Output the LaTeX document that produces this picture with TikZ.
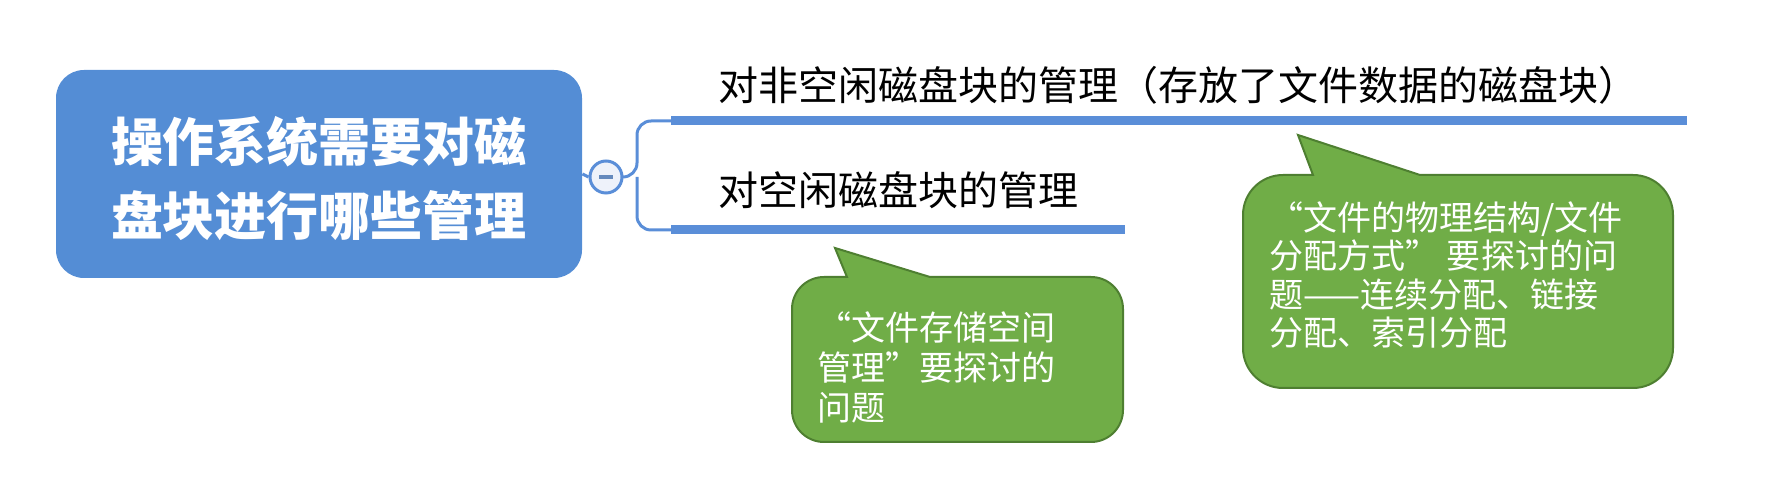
\documentclass[tikz,border=0pt]{standalone}
\usepackage{fontspec}
\setmainfont{Noto Sans CJK SC}
\definecolor{mainblue}{RGB}{84,141,213}
\definecolor{lineblue}{RGB}{90,142,216}
\definecolor{cfill}{RGB}{238,242,250}
\definecolor{gfill}{RGB}{112,173,71}
\definecolor{gdraw}{RGB}{78,127,49}
\tikzset{
  mainbox/.style={fill=mainblue, rounded corners=14pt, minimum width=263pt, minimum height=104pt, inner sep=0pt},
  maintext/.style={text=white, font=\fontsize{26pt}{37pt}\selectfont\bfseries, align=center, inner sep=0pt},
  topic/.style={font=\fontsize{20pt}{24pt}\selectfont, text=black, inner sep=0pt, anchor=west},
  branch/.style={draw=lineblue, line width=4.5pt},
  bracket/.style={draw=lineblue, line width=1.5pt, rounded corners=7pt},
  callout/.style={fill=gfill, draw=gdraw, line width=1pt},
  ctext/.style={text=white, inner sep=0pt, anchor=north west, align=left},
}
\begin{document}
\begin{tikzpicture}[x=0.5pt,y=-0.5pt]
\useasboundingbox (0,0) rectangle (1769,485);
% main topic
\node[mainbox] (main) at (319,174) {};
\node[maintext] (mt) at (319,179) {操作系统需要对磁\\盘块进行哪些管理};
% collapse button
\node[circle, draw=lineblue, fill=cfill, line width=1.5pt, minimum size=16pt, inner sep=0pt] (btn) at (606,177) {};
\draw[draw=lineblue!70!gray, line width=1.6pt] ([xshift=-3.5pt]btn.center) -- ([xshift=3.5pt]btn.center);
\draw[draw=lineblue, line width=1.5pt] (main.east) -- (btn.west);
% branch lines
\coordinate (t1s) at (671,121);
\coordinate (t1e) at (1687,121);
\coordinate (t2s) at (671,230);
\coordinate (t2e) at (1125,230);
\coordinate (j) at (637,177);
\draw[branch] (t1s) -- (t1e);
\draw[branch] (t2s) -- (t2e);
\draw[bracket] (btn.east) -- (j) |- ([xshift=1pt]t1s);
\draw[bracket] (j) |- ([xshift=1pt]t2s);
% topic texts
\node[topic] (t1) at (718,85) {对非空闲磁盘块的管理（存放了文件数据的磁盘块）};
\node[topic] (t2) at (718,190) {对空闲磁盘块的管理};
% callout 1
\draw[callout] (930,277) [rounded corners=16pt] -- (1123,277) -- (1123,442) -- (792,442) -- (792,277) [sharp corners] -- (847,277) -- (835,248) -- cycle;
\node[ctext, font=\fontsize{17pt}{20pt}\selectfont] (c1) at (817,311) {“文件存储空间\\管理”要探讨的\\问题};
% callout 2
\draw[callout] (1420,175) [rounded corners=20pt] -- (1673,175) -- (1673,388) -- (1243,388) -- (1243,175) [sharp corners] -- (1313,175) -- (1298,135) -- cycle;
\node[ctext, font=\fontsize{17pt}{19.3pt}\selectfont] (c2) at (1269,201) {“文件的物理结构/文件\\分配方式” 要探讨的问\\题——连续分配、链接\\分配、索引分配};
\end{tikzpicture}
\end{document}
